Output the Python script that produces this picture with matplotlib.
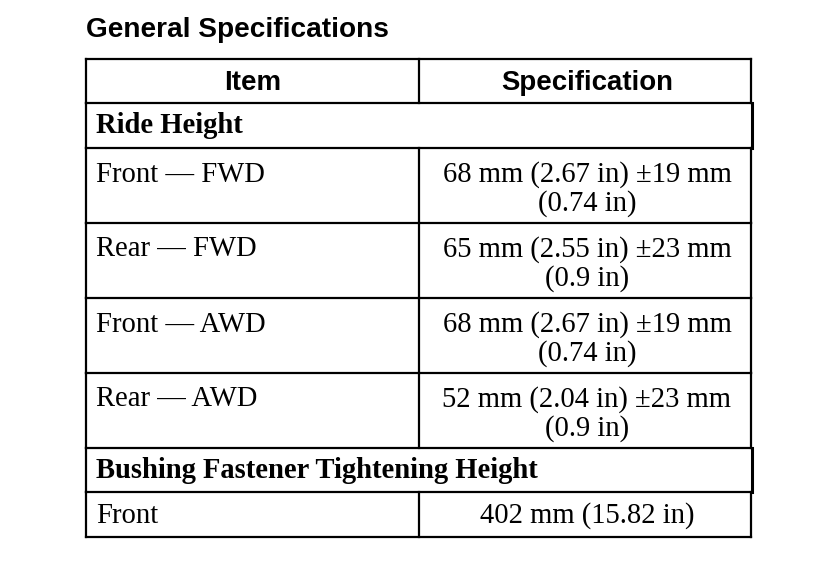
import matplotlib
matplotlib.use("Agg")
import matplotlib.pyplot as plt

title = "General Specifications"
headers = ["Item", "Specification"]

# rows: (kind, item, spec lines)
sections = ["Ride Height", "Bushing Fastener Tightening Height"]
ride_items = ["Front \u2014 FWD", "Rear \u2014 FWD", "Front \u2014 AWD", "Rear \u2014 AWD"]
ride_specs = [
    ["68 mm (2.67 in) \u00b119 mm", "(0.74 in)"],
    ["65 mm (2.55 in) \u00b123 mm", "(0.9 in)"],
    ["68 mm (2.67 in) \u00b119 mm", "(0.74 in)"],
    ["52 mm (2.04 in) \u00b123 mm", "(0.9 in)"],
]
bushing_items = ["Front"]
bushing_specs = [["402 mm (15.82 in)"]]

W, H = 816, 564
fig = plt.figure(figsize=(W / 100, H / 100), dpi=100)
ax = fig.add_axes([0, 0, 1, 1])
ax.set_xlim(0, W)
ax.set_ylim(H, 0)
ax.axis("off")

left, mid, right = 86, 419, 751
lw = 1.6
serif = "Liberation Serif"
sans = "Liberation Sans"
fs_serif = 20.6
fs_sans = 19.9

def hline(y, x0=left, x1=right):
    ax.plot([x0, x1], [y, y], color="black", lw=lw, solid_capstyle="projecting")

def vline(x, y0, y1, w=lw):
    ax.plot([x, x], [y0, y1], color="black", lw=w, solid_capstyle="projecting")

ax.text(left, 37, title, family=sans, weight="bold", fontsize=20.2, va="baseline", ha="left")

# header
top = 59
y = top
hline(y)
hh = 44
ax.text((left + mid) / 2, y + 31, headers[0], family=sans, weight="bold", fontsize=fs_sans, ha="center", va="baseline")
ax.text((mid + right) / 2 + 2, y + 31, headers[1], family=sans, weight="bold", fontsize=fs_sans, ha="center", va="baseline")
vline(left, y, y + hh)
vline(mid, y, y + hh)
vline(right, y, y + hh)
y += hh

def section(name, y):
    h = 44.5
    hline(y)
    ax.text(left + 10, y + 30, name, family=serif, weight="bold", fontsize=fs_serif, ha="left", va="baseline")
    vline(left, y, y + h)
    vline(right + 1, y, y + h, w=2.2)
    return y + h

def rows(items, specs, y):
    for item, spec in zip(items, specs):
        h = 75 if len(spec) > 1 else 45
        off = 34 if len(spec) > 1 else 31
        hline(y)
        ax.text(left + 10, y + off, item, family=serif, fontsize=fs_serif, ha="left", va="baseline")
        for k, line in enumerate(spec):
            ax.text((mid + right) / 2 + 2, y + off + 29 * k, line, family=serif, fontsize=fs_serif, ha="center", va="baseline")
        vline(left, y, y + h)
        vline(mid, y, y + h)
        vline(right, y, y + h)
        y += h
    return y

y = section(sections[0], y)
y = rows(ride_items, ride_specs, y)
y = section(sections[1], y)
y = rows(bushing_items, bushing_specs, y)
hline(y)

fig.savefig("out.png", dpi=100, facecolor="white")
